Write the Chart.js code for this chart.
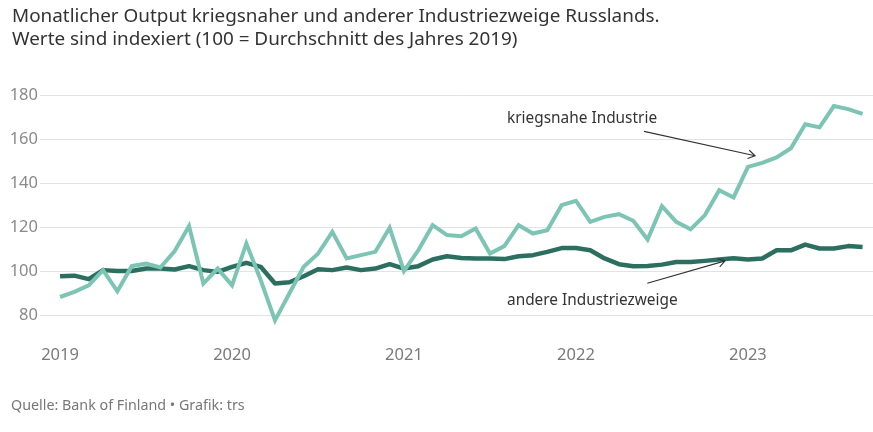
<!DOCTYPE html>
<html>
<head>
<meta charset="utf-8">
<script src="https://cdn.jsdelivr.net/npm/chart.js@4/dist/chart.umd.min.js"></script>
<style>
  html, body { margin: 0; padding: 0; background: #fff; }
  body { width: 873px; height: 432px; position: relative; overflow: hidden; font-family: "Noto Sans", sans-serif; }
  #title { position: absolute; left: 12px; top: 4px; font-size: 18.9px; line-height: 23px; color: #333; }
  #footer { position: absolute; left: 11px; top: 395px; font-size: 14.3px; color: #777; }
  #wrap { position: absolute; left: 0; top: 0; width: 873px; height: 432px; }
</style>
</head>
<body>
<div id="wrap"><canvas id="c" width="873" height="432"></canvas></div>
<div id="title">Monatlicher Output kriegsnaher und anderer Industriezweige Russlands.<br>Werte sind indexiert (100 = Durchschnitt des Jahres 2019)</div>
<div id="footer">Quelle: Bank of Finland • Grafik: trs</div>
<script>
// Months Jan 2019 – Sep 2023
const months = [
  "2019-01","2019-02","2019-03","2019-04","2019-05","2019-06","2019-07","2019-08","2019-09","2019-10","2019-11","2019-12",
  "2020-01","2020-02","2020-03","2020-04","2020-05","2020-06","2020-07","2020-08","2020-09","2020-10","2020-11","2020-12",
  "2021-01","2021-02","2021-03","2021-04","2021-05","2021-06","2021-07","2021-08","2021-09","2021-10","2021-11","2021-12",
  "2022-01","2022-02","2022-03","2022-04","2022-05","2022-06","2022-07","2022-08","2022-09","2022-10","2022-11","2022-12",
  "2023-01","2023-02","2023-03","2023-04","2023-05","2023-06","2023-07","2023-08","2023-09"
];
const kriegsnahe = [
  88.3, 90.6, 93.6, 100.5, 90.9, 102.3, 103.5, 101.7, 109.2, 120.5, 94.4, 101.2,
  93.6, 112.6, 96.0, 77.7, 89.9, 102.0, 108.0, 117.9, 105.8, 107.3, 108.8, 119.7,
  100.1, 109.5, 120.9, 116.4, 115.9, 119.4, 108.0, 111.4, 120.9, 117.1, 118.6, 130.0,
  132.0, 122.4, 124.7, 125.9, 122.9, 114.4, 129.5, 122.4, 119.0, 125.5, 136.8, 133.5,
  147.4, 149.2, 151.7, 155.8, 166.7, 165.3, 175.0, 173.6, 171.4
];
const andere = [
  97.7, 98.0, 96.4, 100.5, 100.1, 100.1, 101.2, 101.2, 100.8, 102.3, 100.5, 99.7,
  102.0, 103.8, 102.0, 94.4, 95.0, 97.7, 100.9, 100.5, 101.7, 100.5, 101.2, 103.2,
  101.2, 102.3, 105.3, 106.8, 106.0, 105.8, 105.8, 105.5, 106.8, 107.3, 108.8, 110.5,
  110.5, 109.5, 105.8, 103.2, 102.3, 102.4, 103.0, 104.2, 104.2, 104.7, 105.3, 105.9,
  105.3, 105.8, 109.5, 109.5, 112.1, 110.3, 110.3, 111.4, 111.0
];
const yearLabels = ["2019", "2020", "2021", "2022", "2023"];
const yTicks = [80, 100, 120, 140, 160, 180];
const seriesNames = ["kriegsnahe Industrie", "andere Industriezweige"];

const colLight = "#7cc4b3";
const colDark = "#2c6f61";

const toPoints = arr => arr.map((v, i) => ({ x: i, y: v }));
const yearIdx = yearLabels.map(y => months.indexOf(y + "-01"));

// annotation anchors in data space (month index, value)
const annotations = [
  { text: seriesNames[0], tx: 31.19, ty: 167.4, ax0: 40.75, ay0: 163.5, ax1: 48.5, ay1: 152.4 },
  { text: seriesNames[1], tx: 31.19, ty: 84.7, ax0: 40.98, ay0: 94.5, ax1: 46.41, ay1: 104.7 }
];

const annotPlugin = {
  id: 'annot',
  afterDatasetsDraw(chart) {
    const ctx = chart.ctx, xs = chart.scales.x, ys = chart.scales.y;
    ctx.save();
    ctx.font = '15.4px "Noto Sans", sans-serif';
    ctx.fillStyle = '#333';
    ctx.textBaseline = 'alphabetic';
    ctx.textAlign = 'left';
    annotations.forEach(a => {
      ctx.fillText(a.text, xs.getPixelForValue(a.tx), ys.getPixelForValue(a.ty));
      const x0 = xs.getPixelForValue(a.ax0), y0 = ys.getPixelForValue(a.ay0);
      const x1 = xs.getPixelForValue(a.ax1), y1 = ys.getPixelForValue(a.ay1);
      ctx.strokeStyle = '#333';
      ctx.lineWidth = 1.1;
      ctx.beginPath();
      ctx.moveTo(x0, y0); ctx.lineTo(x1, y1);
      const ang = Math.atan2(y1 - y0, x1 - x0), L = 8, w = 0.55;
      ctx.moveTo(x1 - L * Math.cos(ang - w), y1 - L * Math.sin(ang - w));
      ctx.lineTo(x1, y1);
      ctx.lineTo(x1 - L * Math.cos(ang + w), y1 - L * Math.sin(ang + w));
      ctx.stroke();
    });
    ctx.restore();
  }
};

new Chart(document.getElementById('c'), {
  type: 'line',
  data: {
    datasets: [
      { label: seriesNames[0], data: toPoints(kriegsnahe), borderColor: colLight, borderWidth: 4, pointRadius: 0, tension: 0, borderJoinStyle: 'miter' },
      { label: seriesNames[1], data: toPoints(andere), borderColor: colDark, borderWidth: 4.5, pointRadius: 0, tension: 0, borderJoinStyle: 'round' }
    ]
  },
  options: {
    responsive: false,
    animation: false,
    devicePixelRatio: 1,
    layout: { padding: { top: 95, right: 0, bottom: 65.7, left: 0 } },
    plugins: { legend: { display: false }, tooltip: { enabled: false } },
    scales: {
      x: {
        type: 'linear', min: -1.4, max: 56.73,
        grid: { display: false, drawTicks: false },
        border: { display: false },
        afterBuildTicks: s => { s.ticks = yearIdx.map(v => ({ value: v })); },
        afterFit: s => { s.height = 40; },
        ticks: {
          padding: 19, color: '#7a7a7a', font: { family: '"Noto Sans", sans-serif', size: 16.5 },
          maxRotation: 0, autoSkip: false,
          callback: (v, i) => yearLabels[i]
        }
      },
      y: {
        min: 75, max: 180,
        grid: { color: '#e3e3e3', lineWidth: 1, drawTicks: false },
        border: { display: false },
        afterBuildTicks: s => { s.ticks = yTicks.map(v => ({ value: v })); },
        afterFit: s => { s.width = 40; },
        ticks: { padding: 2, color: '#8a8a8a', font: { family: '"Noto Sans", sans-serif', size: 16.5 } }
      }
    }
  },
  plugins: [annotPlugin]
});
</script>
</body>
</html>
